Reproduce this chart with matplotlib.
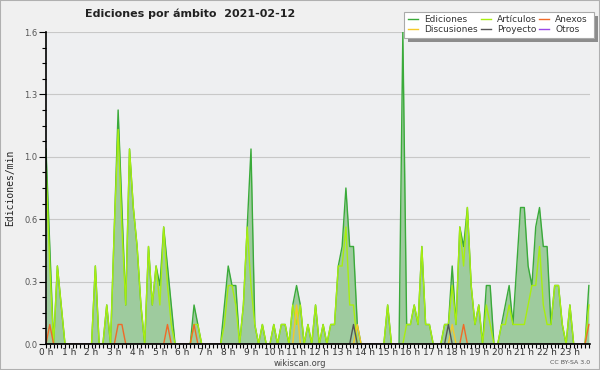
import numpy as np
import matplotlib.pyplot as plt
from matplotlib.patches import Rectangle
from matplotlib.lines import Line2D

W, H = 600, 370

# edits per minute, 10-minute bins (6 per hour), one row = 2 hours
ediciones = [
    1.0, 0.5, 0.0, 0.4, 0.2, 0.0,   0.0, 0.0, 0.0, 0.0, 0.0, 0.0,
    0.0, 0.4, 0.0, 0.0, 0.2, 0.0,   0.6, 1.2, 0.7, 0.2, 1.0, 0.7,
    0.5, 0.2, 0.0, 0.5, 0.2, 0.4,   0.3, 0.6, 0.4, 0.2, 0.0, 0.0,
    0.0, 0.0, 0.0, 0.2, 0.1, 0.0,   0.0, 0.0, 0.0, 0.0, 0.0, 0.2,
    0.4, 0.3, 0.3, 0.0, 0.2, 0.6,   1.0, 0.1, 0.0, 0.1, 0.0, 0.0,
    0.1, 0.0, 0.1, 0.1, 0.0, 0.2,   0.3, 0.2, 0.0, 0.1, 0.0, 0.2,
    0.0, 0.1, 0.0, 0.1, 0.1, 0.4,   0.5, 0.8, 0.5, 0.5, 0.1, 0.0,
    0.0, 0.0, 0.0, 0.0, 0.0, 0.0,   0.2, 0.0, 0.0, 0.0, 1.6, 0.1,
    0.1, 0.2, 0.1, 0.5, 0.1, 0.1,   0.0, 0.0, 0.0, 0.1, 0.1, 0.4,
    0.1, 0.6, 0.5, 0.7, 0.3, 0.1,   0.2, 0.0, 0.3, 0.3, 0.0, 0.0,
    0.1, 0.2, 0.3, 0.1, 0.4, 0.7,   0.7, 0.4, 0.3, 0.6, 0.7, 0.5,
    0.5, 0.1, 0.3, 0.3, 0.1, 0.0,   0.2, 0.0, 0.0, 0.0, 0.0, 0.3,
]
articulos = [
    0.9, 0.4, 0.0, 0.4, 0.2, 0.0,   0.0, 0.0, 0.0, 0.0, 0.0, 0.0,
    0.0, 0.4, 0.0, 0.0, 0.2, 0.0,   0.6, 1.1, 0.6, 0.2, 1.0, 0.7,
    0.5, 0.2, 0.0, 0.5, 0.2, 0.4,   0.2, 0.6, 0.3, 0.1, 0.0, 0.0,
    0.0, 0.0, 0.0, 0.1, 0.1, 0.0,   0.0, 0.0, 0.0, 0.0, 0.0, 0.1,
    0.3, 0.3, 0.2, 0.0, 0.2, 0.6,   0.3, 0.1, 0.0, 0.1, 0.0, 0.0,
    0.1, 0.0, 0.1, 0.1, 0.0, 0.2,   0.1, 0.2, 0.0, 0.1, 0.0, 0.2,
    0.0, 0.1, 0.0, 0.1, 0.1, 0.4,   0.4, 0.6, 0.2, 0.2, 0.0, 0.0,
    0.0, 0.0, 0.0, 0.0, 0.0, 0.0,   0.2, 0.0, 0.0, 0.0, 0.0, 0.1,
    0.1, 0.2, 0.1, 0.5, 0.1, 0.1,   0.0, 0.0, 0.0, 0.1, 0.1, 0.3,
    0.1, 0.6, 0.4, 0.7, 0.3, 0.1,   0.2, 0.0, 0.2, 0.1, 0.0, 0.0,
    0.1, 0.1, 0.2, 0.1, 0.1, 0.1,   0.1, 0.2, 0.3, 0.3, 0.5, 0.2,
    0.1, 0.1, 0.3, 0.3, 0.1, 0.0,   0.2, 0.0, 0.0, 0.0, 0.0, 0.2,
]
anexos = [
    0.0, 0.1, 0.0, 0.0, 0.0, 0.0,   0.0, 0.0, 0.0, 0.0, 0.0, 0.0,
    0.0, 0.0, 0.0, 0.0, 0.0, 0.0,   0.0, 0.1, 0.1, 0.0, 0.0, 0.0,
    0.0, 0.0, 0.0, 0.0, 0.0, 0.0,   0.0, 0.0, 0.1, 0.0, 0.0, 0.0,
    0.0, 0.0, 0.0, 0.1, 0.0, 0.0,   0.0, 0.0, 0.0, 0.0, 0.0, 0.0,
    0.0, 0.0, 0.0, 0.0, 0.0, 0.0,   0.0, 0.0, 0.0, 0.0, 0.0, 0.0,
    0.0, 0.0, 0.0, 0.0, 0.0, 0.0,   0.0, 0.0, 0.0, 0.0, 0.0, 0.0,
    0.0, 0.0, 0.0, 0.0, 0.0, 0.0,   0.0, 0.0, 0.0, 0.0, 0.0, 0.0,
    0.0, 0.0, 0.0, 0.0, 0.0, 0.0,   0.0, 0.0, 0.0, 0.0, 0.0, 0.0,
    0.0, 0.0, 0.0, 0.0, 0.0, 0.0,   0.0, 0.0, 0.0, 0.0, 0.0, 0.0,
    0.0, 0.0, 0.1, 0.0, 0.0, 0.0,   0.0, 0.0, 0.0, 0.0, 0.0, 0.0,
    0.0, 0.0, 0.0, 0.0, 0.0, 0.0,   0.0, 0.0, 0.0, 0.0, 0.0, 0.0,
    0.0, 0.0, 0.0, 0.0, 0.0, 0.0,   0.0, 0.0, 0.0, 0.0, 0.0, 0.1,
]
discusiones = [
    0.0, 0.0, 0.0, 0.0, 0.0, 0.0,   0.0, 0.0, 0.0, 0.0, 0.0, 0.0,
    0.0, 0.0, 0.0, 0.0, 0.0, 0.0,   0.0, 0.0, 0.0, 0.0, 0.0, 0.0,
    0.0, 0.0, 0.0, 0.0, 0.0, 0.0,   0.0, 0.0, 0.0, 0.0, 0.0, 0.0,
    0.0, 0.0, 0.0, 0.0, 0.0, 0.0,   0.0, 0.0, 0.0, 0.0, 0.0, 0.0,
    0.0, 0.0, 0.0, 0.0, 0.0, 0.0,   0.0, 0.0, 0.0, 0.0, 0.0, 0.0,
    0.0, 0.0, 0.0, 0.0, 0.0, 0.0,   0.2, 0.0, 0.0, 0.0, 0.0, 0.0,
    0.0, 0.0, 0.0, 0.0, 0.0, 0.0,   0.0, 0.0, 0.0, 0.0, 0.1, 0.0,
    0.0, 0.0, 0.0, 0.0, 0.0, 0.0,   0.0, 0.0, 0.0, 0.0, 0.0, 0.0,
    0.0, 0.0, 0.0, 0.0, 0.0, 0.0,   0.0, 0.0, 0.0, 0.0, 0.0, 0.1,
    0.0, 0.0, 0.0, 0.0, 0.0, 0.0,   0.0, 0.0, 0.0, 0.0, 0.0, 0.0,
    0.0, 0.0, 0.0, 0.0, 0.0, 0.0,   0.0, 0.0, 0.0, 0.0, 0.0, 0.0,
    0.0, 0.0, 0.0, 0.0, 0.0, 0.0,   0.0, 0.0, 0.0, 0.0, 0.0, 0.0,
]
proyecto = [
    0.0, 0.0, 0.0, 0.0, 0.0, 0.0,   0.0, 0.0, 0.0, 0.0, 0.0, 0.0,
    0.0, 0.0, 0.0, 0.0, 0.0, 0.0,   0.0, 0.0, 0.0, 0.0, 0.0, 0.0,
    0.0, 0.0, 0.0, 0.0, 0.0, 0.0,   0.0, 0.0, 0.0, 0.0, 0.0, 0.0,
    0.0, 0.0, 0.0, 0.0, 0.0, 0.0,   0.0, 0.0, 0.0, 0.0, 0.0, 0.0,
    0.0, 0.0, 0.0, 0.0, 0.0, 0.0,   0.0, 0.0, 0.0, 0.0, 0.0, 0.0,
    0.0, 0.0, 0.0, 0.0, 0.0, 0.0,   0.0, 0.0, 0.0, 0.0, 0.0, 0.0,
    0.0, 0.0, 0.0, 0.0, 0.0, 0.0,   0.0, 0.0, 0.0, 0.1, 0.0, 0.0,
    0.0, 0.0, 0.0, 0.0, 0.0, 0.0,   0.0, 0.0, 0.0, 0.0, 0.0, 0.0,
    0.0, 0.0, 0.0, 0.0, 0.0, 0.0,   0.0, 0.0, 0.0, 0.0, 0.1, 0.0,
    0.0, 0.0, 0.0, 0.0, 0.0, 0.0,   0.0, 0.0, 0.0, 0.0, 0.0, 0.0,
    0.0, 0.0, 0.0, 0.0, 0.0, 0.0,   0.0, 0.0, 0.0, 0.0, 0.0, 0.0,
    0.0, 0.0, 0.0, 0.0, 0.0, 0.0,   0.0, 0.0, 0.0, 0.0, 0.0, 0.0,
]
otros = [0.0] * 144  # nothing in this namespace all day

hour_labels = [f'{h} h' for h in range(24)]
series = [
    ('Ediciones', ediciones, '#3aaa3a'),
    ('Artículos', articulos, '#a8ee10'),
    ('Anexos', anexos, '#f06a28'),
    ('Discusiones', discusiones, '#f5c928'),
    ('Proyecto', proyecto, '#555555'),
    ('Otros', otros, '#9a48e8'),
]


def px(x, y):
    # pixel position -> figure fraction
    return x / W, 1 - y / H


x = np.arange(len(ediciones))

fig = plt.figure(figsize=(W / 100, H / 100), dpi=100, facecolor='#f0f0f0')
fig.patches.append(Rectangle((0, 0), 1, 1, transform=fig.transFigure, fill=False,
                             edgecolor='#b0b0b0', lw=1.5))

ax = fig.add_axes([46 / W, 1 - 344 / H, (590 - 46) / W, (344 - 32) / H])
ax.set_facecolor('#eeeff1')

ax.fill_between(x, 0, ediciones, color='#9ecb9e', lw=0, zorder=1)
for name, vals, col in series:
    ax.plot(x, vals, color=col, lw=1.0, zorder=2)

ax.set_xlim(0, 143.3)
ax.set_ylim(0, 1.6)

yt = np.linspace(0, 1.6, 6)
ax.set_yticks(yt)
ax.set_yticklabels([f'{v:.1f}' for v in yt])
ax.set_yticks(np.arange(0, 1.601, 0.08), minor=True)
ax.set_xticks(x[::6])
ax.set_xticklabels(hour_labels)
ax.set_xticks(x, minor=True)

ax.grid(axis='y', which='major', color='#c8c8c8', lw=0.8)
ax.set_axisbelow(True)
for s in ['top', 'right']:
    ax.spines[s].set_visible(False)
for s in ['left', 'bottom']:
    ax.spines[s].set_linewidth(1.2)
    ax.spines[s].set_zorder(3)

ax.tick_params(axis='y', which='major', length=5, width=0.8, labelsize=6, labelcolor='#555555', pad=1)
ax.tick_params(axis='y', which='minor', length=3, width=0.8)
ax.tick_params(axis='x', which='both', length=3, width=0.8, labelsize=6.5, labelcolor='#333333', pad=0)

fig.text(*px(85, 14), 'Ediciones por ámbito  2021-02-12', fontsize=8, fontweight='bold',
         ha='left', va='center', color='#222222')
fig.text(*px(10, 188), 'Ediciones/min', rotation=90, fontsize=7, family='DejaVu Sans Mono',
         ha='center', va='center', color='#222222')
fig.text(*px(300, 363), 'wikiscan.org', fontsize=6, ha='center', va='center', color='#444444')
fig.text(*px(590, 363), 'CC BY-SA 3.0', fontsize=4.5, ha='right', va='center', color='#555555')

# legend box with shadow
x0, y0 = px(404, 38)
x1, y1 = px(594, 12)
sx, sy = 4 / W, -4 / H
fig.patches.append(Rectangle((x0 + sx, y0 + sy), x1 - x0, y1 - y0, transform=fig.transFigure,
                             facecolor='#8c8c8c', edgecolor='none', zorder=5))
fig.patches.append(Rectangle((x0, y0), x1 - x0, y1 - y0, transform=fig.transFigure,
                             facecolor='white', edgecolor='#aaaaaa', lw=0.8, zorder=6))
cols = [408, 481, 539]
rows = [19, 29]
order = [0, 3, 1, 4, 2, 5]  # column-wise fill like the original
for k, idx in enumerate(order):
    name, vals, col = series[idx]
    cx = cols[k // 2]
    cy = rows[k % 2]
    lx0, ly = px(cx, cy)
    lx1, _ = px(cx + 10, cy)
    fig.lines.append(Line2D([lx0, lx1], [ly, ly], transform=fig.transFigure, color=col, lw=1.0, zorder=7))
    fig.text(*px(cx + 16, cy), name, fontsize=6.5, ha='left', va='center', color='#333333', zorder=7)

fig.savefig('out.png', dpi=100, facecolor=fig.get_facecolor())
